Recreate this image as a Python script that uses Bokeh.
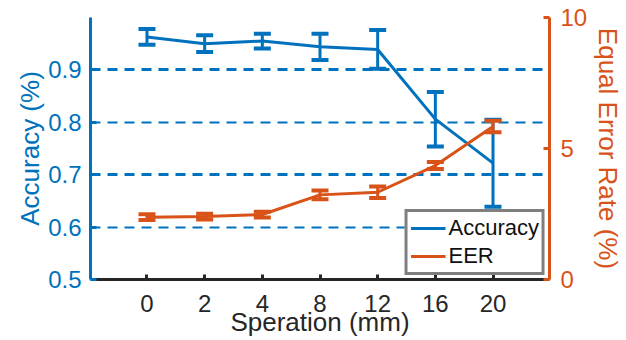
from bokeh.plotting import figure
from bokeh.models import (FactorRange, Range1d, LinearAxis, FixedTicker, Grid,
                          Legend, LegendItem, ColumnDataSource)
from bokeh.embed import file_html
from bokeh.resources import INLINE

categories = ["0", "2", "4", "8", "12", "16", "20"]
accuracy = [0.963, 0.950, 0.955, 0.944, 0.939, 0.806, 0.722]
accuracy_err = [0.015, 0.016, 0.014, 0.025, 0.037, 0.052, 0.083]
eer = [2.38, 2.40, 2.48, 3.23, 3.33, 4.35, 5.84]
eer_err = [0.11, 0.11, 0.11, 0.17, 0.22, 0.13, 0.22]
left_ticks = [0.5, 0.6, 0.7, 0.8, 0.9]
right_ticks = [0, 5, 10]

BLUE = "#0072BD"
ORANGE = "#D95319"
FONT = "Liberation Sans"

acc_src = ColumnDataSource(dict(
    x=categories, y=accuracy,
    lo=[a - e for a, e in zip(accuracy, accuracy_err)],
    hi=[a + e for a, e in zip(accuracy, accuracy_err)]))
eer_src = ColumnDataSource(dict(
    x=categories, y=eer,
    lo=[a - e for a, e in zip(eer, eer_err)],
    hi=[a + e for a, e in zip(eer, eer_err)]))

p = figure(width=626, height=340,
           x_range=FactorRange(factors=categories, range_padding=0.137),
           y_range=Range1d(0.5, 1.0),
           output_backend="svg", toolbar_location=None,
           min_border_left=90, min_border_right=76,
           min_border_top=17, min_border_bottom=61)
p.extra_y_ranges = {"eer": Range1d(0, 10)}
p.outline_line_color = None
p.background_fill_color = "white"
p.border_fill_color = "white"

# grid
p.xgrid.visible = False
p.ygrid.ticker = FixedTicker(ticks=[0.7, 0.9])
p.ygrid.grid_line_color = BLUE
p.ygrid.grid_line_width = 3
p.ygrid.grid_line_dash = "10 7"
g2 = Grid(dimension=1, ticker=FixedTicker(ticks=[0.6, 0.8]),
          grid_line_color=BLUE, grid_line_width=2, grid_line_dash="10 7")
p.add_layout(g2)

# left axis
ya = p.yaxis[0]
ya.ticker = FixedTicker(ticks=left_ticks)
ya.axis_label = "Accuracy (%)"
ya.axis_line_color = BLUE
ya.axis_line_width = 3
ya.major_tick_line_color = BLUE
ya.major_tick_line_width = 3
ya.major_tick_in = 6
ya.major_tick_out = 0
ya.minor_tick_line_color = None
ya.major_label_text_color = BLUE
ya.major_label_text_font = FONT
ya.major_label_text_font_size = "24px"
ya.major_label_standoff = 9
ya.axis_label_text_color = BLUE
ya.axis_label_text_font = FONT
ya.axis_label_text_font_size = "26px"
ya.axis_label_text_font_style = "normal"
ya.axis_label_standoff = 0

# right axis
ra = LinearAxis(y_range_name="eer", ticker=FixedTicker(ticks=right_ticks))
ra.axis_label = "Equal Error Rate (%)"
ra.axis_line_color = ORANGE
ra.axis_line_width = 3
ra.major_tick_line_color = ORANGE
ra.major_tick_line_width = 3
ra.major_tick_in = 6
ra.major_tick_out = 0
ra.minor_tick_line_color = None
ra.major_label_text_color = ORANGE
ra.major_label_text_font = FONT
ra.major_label_text_font_size = "24px"
ra.major_label_standoff = 11
ra.axis_label_text_color = ORANGE
ra.axis_label_text_font = FONT
ra.axis_label_text_font_size = "26px"
ra.axis_label_text_font_style = "normal"
ra.axis_label_standoff = 3
p.add_layout(ra, "right")

# bottom axis
xa = p.xaxis[0]
xa.axis_label = "Speration (mm)"
xa.axis_line_color = "#262626"
xa.axis_line_width = 3
xa.major_tick_line_color = "#262626"
xa.major_tick_line_width = 3
xa.major_tick_in = 5
xa.major_tick_out = 0
xa.major_label_text_color = "#262626"
xa.major_label_text_font = FONT
xa.major_label_text_font_size = "24px"
xa.major_label_standoff = 15
xa.axis_label_text_color = "#262626"
xa.axis_label_text_font = FONT
xa.axis_label_text_font_size = "26px"
xa.axis_label_text_font_style = "normal"
xa.axis_label_standoff = -8

# accuracy
acc_line = p.line("x", "y", source=acc_src, line_color=BLUE, line_width=3)
p.segment(x0="x", y0="lo", x1="x", y1="hi", source=acc_src,
          line_color=BLUE, line_width=3)
p.dash(x="x", y="lo", source=acc_src, size=17, line_color=BLUE, line_width=4)
p.dash(x="x", y="hi", source=acc_src, size=17, line_color=BLUE, line_width=4)

# eer
eer_line = p.line("x", "y", source=eer_src, line_color=ORANGE, line_width=3,
                  y_range_name="eer")
p.segment(x0="x", y0="lo", x1="x", y1="hi", source=eer_src,
          line_color=ORANGE, line_width=3, y_range_name="eer")
p.dash(x="x", y="lo", source=eer_src, size=17, line_color=ORANGE,
       line_width=4, y_range_name="eer")
p.dash(x="x", y="hi", source=eer_src, size=17, line_color=ORANGE,
       line_width=4, y_range_name="eer")

legend = Legend(items=[LegendItem(label="Accuracy", renderers=[acc_line]),
                       LegendItem(label="EER", renderers=[eer_line])],
                location="bottom_right")
legend.label_text_font = FONT
legend.label_text_font_size = "22px"
legend.label_text_color = "#111111"
legend.glyph_width = 35
legend.glyph_height = 20
legend.label_standoff = 3
legend.padding = 3
legend.spacing = 2
legend.margin = 4
legend.border_line_color = "black"
legend.border_line_width = 3
legend.background_fill_color = "white"
legend.background_fill_alpha = 1
p.add_layout(legend)

open("out.html", "w").write(file_html(p, INLINE))
